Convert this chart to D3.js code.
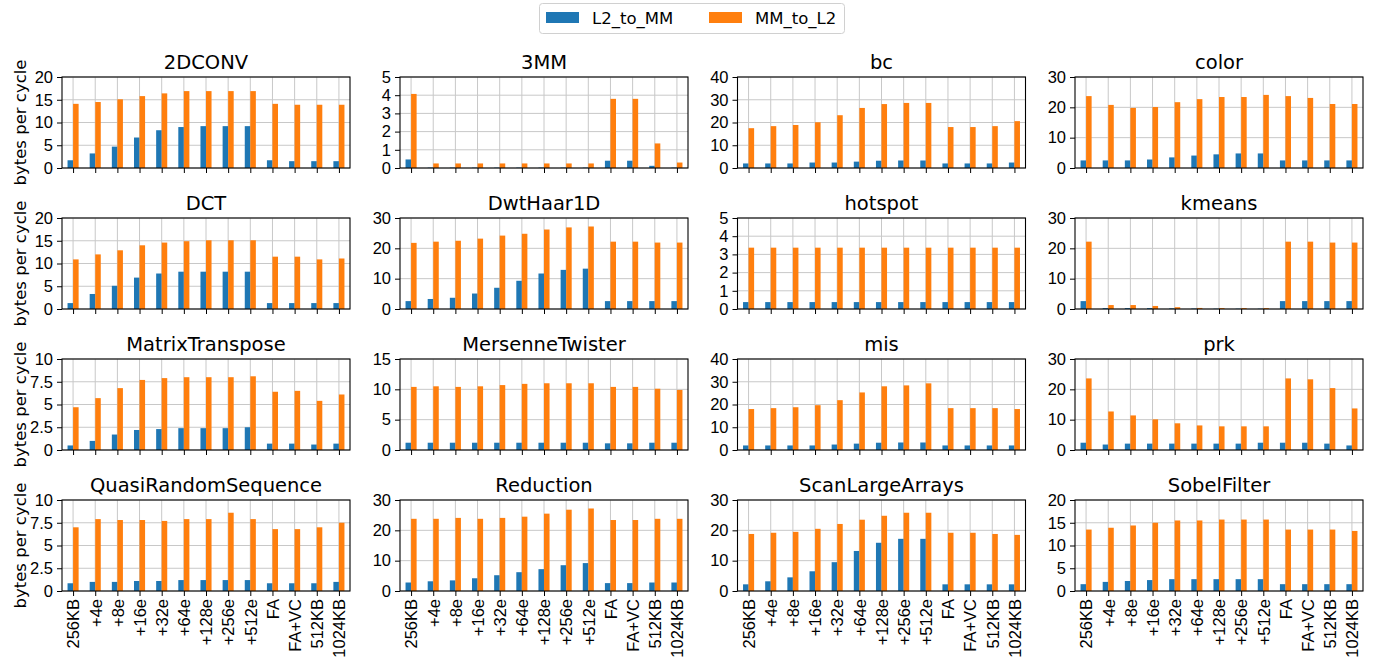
<!DOCTYPE html>
<html>
<head>
<meta charset="utf-8">
<script src="https://cdn.jsdelivr.net/npm/d3@7"></script>
<style>
    body { margin: 0; background: #fff; }
    svg { font-family: "DejaVu Sans", sans-serif; }
    .tick text { font-size: 16.5px; fill: #000; }
    .tick line { stroke: #000; stroke-width: 1; }
    .domain { display: none; }
</style>
</head>
<body>
<div class="data_figure"></div>
<script>

const categories = ["256KB", "+4e", "+8e", "+16e", "+32e", "+64e", "+128e", "+256e", "+512e", "FA", "FA+VC", "512KB", "1024KB"];

const titles = ["2DCONV", "3MM", "bc", "color",
                "DCT", "DwtHaar1D", "hotspot", "kmeans",
                "MatrixTranspose", "MersenneTwister", "mis", "prk",
                "QuasiRandomSequence", "Reduction", "ScanLargeArrays", "SobelFilter"];

const yMaxes = [20, 5, 40, 30,
                20, 30, 5, 30,
                10, 15, 40, 30,
                10, 30, 30, 20];

const yTicks = [
    [0, 5, 10, 15, 20], [0, 1, 2, 3, 4, 5], [0, 10, 20, 30, 40], [0, 10, 20, 30],
    [0, 5, 10, 15, 20], [0, 10, 20, 30], [0, 1, 2, 3, 4, 5], [0, 10, 20, 30],
    [0, 2.5, 5, 7.5, 10], [0, 5, 10, 15], [0, 10, 20, 30, 40], [0, 10, 20, 30],
    [0, 2.5, 5, 7.5, 10], [0, 10, 20, 30], [0, 10, 20, 30], [0, 5, 10, 15, 20]
];

// L2_to_MM, one row per benchmark
const l2ToMM = [
    [1.7, 3.2, 4.7, 6.7, 8.3, 9.0, 9.2, 9.2, 9.2, 1.7, 1.5, 1.5, 1.5],
    [0.47, 0.02, 0.02, 0.02, 0.02, 0.02, 0.02, 0.02, 0.02, 0.4, 0.4, 0.12, 0.02],
    [2.0, 2.0, 2.0, 2.4, 2.4, 2.8, 3.2, 3.3, 3.3, 2.0, 2.0, 2.0, 2.4],
    [2.5, 2.5, 2.5, 2.8, 3.5, 4.1, 4.5, 4.8, 4.8, 2.5, 2.5, 2.5, 2.5],
    [1.3, 3.3, 5.1, 6.9, 7.8, 8.2, 8.2, 8.2, 8.2, 1.3, 1.3, 1.3, 1.3],
    [2.6, 3.3, 3.7, 5.1, 7.0, 9.3, 11.7, 12.9, 13.3, 2.6, 2.6, 2.6, 2.6],
    [0.38, 0.38, 0.38, 0.38, 0.38, 0.38, 0.38, 0.38, 0.38, 0.38, 0.38, 0.38, 0.38],
    [2.6, 0.3, 0.3, 0.3, 0.2, 0.15, 0.1, 0.1, 0.1, 2.6, 2.6, 2.6, 2.6],
    [0.5, 1.0, 1.7, 2.2, 2.3, 2.4, 2.4, 2.4, 2.5, 0.7, 0.7, 0.6, 0.7],
    [1.2, 1.2, 1.2, 1.2, 1.2, 1.2, 1.2, 1.2, 1.2, 1.1, 1.1, 1.2, 1.2],
    [2.0, 2.0, 2.0, 2.0, 2.4, 2.8, 3.2, 3.3, 3.3, 2.0, 2.0, 2.0, 2.0],
    [2.4, 1.8, 2.1, 2.1, 2.1, 2.1, 2.1, 2.1, 2.4, 2.4, 2.4, 2.1, 1.5],
    [0.85, 1.0, 1.0, 1.1, 1.1, 1.2, 1.2, 1.2, 1.2, 0.85, 0.85, 0.85, 1.0],
    [2.8, 3.2, 3.5, 4.2, 5.2, 6.2, 7.2, 8.5, 9.2, 2.6, 2.6, 2.8, 2.8],
    [2.2, 3.2, 4.5, 6.5, 9.5, 13.2, 15.9, 17.2, 17.2, 2.2, 2.2, 2.2, 2.2],
    [1.5, 2.0, 2.2, 2.4, 2.6, 2.6, 2.6, 2.6, 2.6, 1.5, 1.5, 1.5, 1.5]
];

// MM_to_L2, one row per benchmark
const mmToL2 = [
    [14.1, 14.5, 15.1, 15.8, 16.4, 16.9, 16.9, 16.9, 16.9, 14.1, 13.9, 13.9, 13.9],
    [4.07, 0.25, 0.25, 0.25, 0.25, 0.25, 0.25, 0.25, 0.25, 3.8, 3.8, 1.35, 0.3],
    [17.5, 18.4, 18.9, 20.1, 23.2, 26.4, 28.1, 28.6, 28.6, 18.0, 18.0, 18.4, 20.6],
    [23.7, 20.8, 19.8, 20.1, 21.7, 22.7, 23.4, 23.4, 24.1, 23.7, 23.1, 21.1, 21.1],
    [10.9, 12.0, 12.9, 14.0, 14.6, 14.9, 15.1, 15.1, 15.1, 11.5, 11.5, 10.9, 11.1],
    [21.8, 22.2, 22.5, 23.2, 24.2, 24.8, 26.2, 26.9, 27.2, 22.2, 22.2, 21.9, 21.9],
    [3.37, 3.37, 3.37, 3.37, 3.37, 3.37, 3.37, 3.37, 3.37, 3.37, 3.37, 3.37, 3.37],
    [22.2, 1.3, 1.3, 1.0, 0.6, 0.35, 0.3, 0.3, 0.3, 22.2, 22.2, 21.9, 21.9],
    [4.7, 5.7, 6.8, 7.7, 7.9, 8.0, 8.0, 8.0, 8.1, 6.4, 6.5, 5.4, 6.1],
    [10.4, 10.5, 10.4, 10.5, 10.7, 10.9, 11.0, 11.0, 11.0, 10.4, 10.4, 10.1, 9.9],
    [18.0, 18.4, 18.8, 19.7, 21.9, 25.3, 28.0, 28.4, 29.3, 18.4, 18.4, 18.4, 18.0],
    [23.6, 12.7, 11.4, 10.1, 8.8, 8.1, 7.8, 7.8, 7.8, 23.6, 23.3, 20.4, 13.7],
    [7.0, 7.9, 7.8, 7.8, 7.7, 7.9, 7.9, 8.6, 7.9, 6.8, 6.8, 7.0, 7.5],
    [23.8, 23.8, 24.1, 23.8, 24.1, 24.5, 25.5, 26.8, 27.2, 23.4, 23.4, 23.8, 23.8],
    [18.8, 19.2, 19.5, 20.5, 22.1, 23.5, 24.8, 25.8, 25.8, 19.2, 19.2, 18.8, 18.5],
    [13.5, 13.9, 14.4, 15.0, 15.5, 15.5, 15.7, 15.7, 15.7, 13.5, 13.5, 13.5, 13.2]
];

const seriesNames = ["L2_to_MM", "MM_to_L2"];
const seriesColors = ["#1f77b4", "#ff7f0e"];

const width = 1374;
const height = 666;

const plotW = 288,
      plotH = 91;
const colX = [62, 400, 737.5, 1075];
const rowY = [77, 218, 359, 500];


function drawPanel(svg, idx) {
    const row = Math.floor(idx / 4),
          col = idx % 4;

    const g = svg.append("g")
        .attr("transform", "translate(" + colX[col] + ", " + rowY[row] + ")");

    const xScale = d3.scalePoint()
        .domain(categories)
        .range([0, plotW])
        .padding(0.5);

    const yScale = d3.scaleLinear()
        .domain([0, yMaxes[idx]])
        .range([plotH, 0]);

    const barW = xScale.step() * 0.25;

    // grid
    g.selectAll(".vgrid")
        .data(categories)
        .enter()
        .append("line")
        .attr("x1", (d) => xScale(d))
        .attr("x2", (d) => xScale(d))
        .attr("y1", 0)
        .attr("y2", plotH)
        .attr("stroke", "#c8c8c8")
        .attr("stroke-width", 1);

    g.selectAll(".hgrid")
        .data(yTicks[idx])
        .enter()
        .append("line")
        .attr("x1", 0)
        .attr("x2", plotW)
        .attr("y1", (d) => yScale(d))
        .attr("y2", (d) => yScale(d))
        .attr("stroke", "#c8c8c8")
        .attr("stroke-width", 1);

    // bars
    const blueData = l2ToMM[idx],
          orangeData = mmToL2[idx];

    g.selectAll(".blue")
        .data(blueData)
        .enter()
        .append("rect")
        .attr("x", (d, i) => xScale(categories[i]) - barW)
        .attr("y", (d) => yScale(d))
        .attr("width", barW)
        .attr("height", (d) => plotH - yScale(d))
        .attr("fill", seriesColors[0]);

    g.selectAll(".orange")
        .data(orangeData)
        .enter()
        .append("rect")
        .attr("x", (d, i) => xScale(categories[i]))
        .attr("y", (d) => yScale(d))
        .attr("width", barW)
        .attr("height", (d) => plotH - yScale(d))
        .attr("fill", seriesColors[1]);

    // axes
    g.append("g")
        .attr("transform", "translate(0, " + plotH + ")")
        .call(d3.axisBottom(xScale).tickSize(5).tickPadding(3)
              .tickFormat(row === 3 ? null : ""))
        .selectAll("text")
        .attr("transform", "rotate(-90)")
        .attr("text-anchor", "end")
        .attr("x", -8)
        .attr("y", 0)
        .attr("dy", "0.35em");

    g.append("g")
        .call(d3.axisLeft(yScale).tickValues(yTicks[idx])
              .tickFormat(d3.format("~g")).tickSize(5).tickPadding(4));

    g.append("rect")
        .attr("x", 0)
        .attr("y", 0)
        .attr("width", plotW)
        .attr("height", plotH)
        .attr("fill", "none")
        .attr("stroke", "#000")
        .attr("stroke-width", 1.1);

    g.append("text")
        .text(titles[idx])
        .attr("x", plotW / 2)
        .attr("y", -8)
        .attr("text-anchor", "middle")
        .style("font-size", "19.5px");

    if (col === 0) {
        g.append("text")
            .text("bytes per cycle")
            .attr("transform", "rotate(-90)")
            .attr("x", -plotH / 2)
            .attr("y", -36)
            .attr("text-anchor", "middle")
            .style("font-size", "16.5px");
    }
}


function drawChart() {
    let svg = d3.select(".data_figure")
        .append("svg")
        .attr("width", width)
        .attr("height", height);

    for (let i = 0; i < titles.length; i++) {
        drawPanel(svg, i);
    }

    // legend
    const legend = svg.append("g").attr("id", "legend");

    legend.append("rect")
        .attr("x", 539.5)
        .attr("y", 3.5)
        .attr("width", 305)
        .attr("height", 30)
        .attr("rx", 3)
        .attr("fill", "#fff")
        .attr("stroke", "#d0d0d0");

    const legendX = [546, 709];

    legend.selectAll(".patch")
        .data(seriesNames)
        .enter()
        .append("rect")
        .attr("x", (d, i) => legendX[i])
        .attr("y", 12)
        .attr("width", 33)
        .attr("height", 11)
        .attr("fill", (d, i) => seriesColors[i]);

    legend.selectAll(".label")
        .data(seriesNames)
        .enter()
        .append("text")
        .attr("x", (d, i) => legendX[i] + 46)
        .attr("y", 23.5)
        .text((d) => d)
        .style("font-size", "16.5px");
}

drawChart();
</script>
</body>
</html>
